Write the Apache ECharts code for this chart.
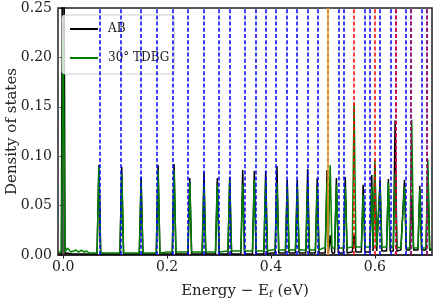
<!DOCTYPE html>
<html>
<head>
<meta charset="utf-8">
<script src="https://cdn.jsdelivr.net/npm/echarts@6/dist/echarts.min.js"></script>
<style>
html,body{margin:0;padding:0;background:#fff;}
#c{width:436px;height:302px;}
</style>
</head>
<body>
<div id="c"></div>
<script>
// ---- data ----
const peakE   = [0.000, 0.0687, 0.1127, 0.150, 0.1827, 0.2135, 0.2437, 0.271, 0.2967, 0.3206, 0.3456, 0.3679, 0.3898, 0.4115, 0.4313, 0.4506, 0.4706, 0.489, 0.508, 0.514, 0.526, 0.543, 0.560, 0.5775, 0.594, 0.600, 0.610, 0.626, 0.639, 0.657, 0.671, 0.6865, 0.702];
const abPeak  = [0.600, 0.091, 0.089, 0.079, 0.091, 0.092, 0.078, 0.084, 0.078, 0.079, 0.086, 0.085, 0.085, 0.090, 0.076, 0.076, 0.087, 0.078, 0.086, 0.020, 0.078, 0.079, 0.020, 0.071, 0.081, 0.090, 0.076, 0.077, 0.136, 0.076, 0.060, 0.070, 0.086];
const tdbgPeak= [0.222, 0.090, 0.084, 0.074, 0.086, 0.086, 0.073, 0.071, 0.071, 0.076, 0.071, 0.077, 0.074, 0.073, 0.069, 0.069, 0.071, 0.069, 0.075, 0.091, 0.071, 0.069, 0.154, 0.061, 0.069, 0.096, 0.071, 0.073, 0.083, 0.069, 0.137, 0.066, 0.097];

const baseE    = [-0.01, 0.008, 0.015, 0.02, 0.025, 0.03, 0.035, 0.04, 0.045, 0.05, 0.1, 0.2, 0.3, 0.4, 0.5, 0.55, 0.6, 0.65, 0.71];
const abBase   = [0.001, 0.002, 0.001, 0.001, 0.001, 0.001, 0.001, 0.001, 0.001, 0.001, 0.001, 0.001, 0.001, 0.002, 0.002, 0.003, 0.004, 0.005, 0.005];
const tdbgBase = [0.003, 0.007, 0.003, 0.004, 0.005, 0.003, 0.005, 0.003, 0.004, 0.002, 0.002, 0.003, 0.004, 0.005, 0.007, 0.008, 0.008, 0.007, 0.006];

const blueE   = [0.0687, 0.1127, 0.150, 0.1827, 0.2135, 0.2437, 0.271, 0.2967, 0.3206, 0.3456, 0.3679, 0.3898, 0.4115, 0.4313, 0.4506, 0.4706, 0.489, 0.508, 0.526, 0.543, 0.5775, 0.594, 0.610, 0.626, 0.641, 0.657, 0.671, 0.6865, 0.702];
const orangeE = [0.514];
const redE    = [0.560, 0.600, 0.638, 0.671, 0.702];

const xTicks = [0.0, 0.2, 0.4, 0.6];

// ---- build line data from peaks + baseline ----
const W = 0.0035;
function footAt(base, e){
  let v = base[0];
  for (let i = 0; i < baseE.length; i++) if (baseE[i] <= e) v = base[i];
  return v;
}
function build(base, peaks){
  const pts = [];
  baseE.forEach((e,i)=>{
    if (!peakE.some(p=>Math.abs(p-e) < W*1.3)) pts.push([e, base[i]]);
  });
  peakE.forEach((e,i)=>{
    const b = footAt(base, e);
    pts.push([e-W, b], [e, peaks[i]], [e+W, b]);
  });
  pts.sort((a,b)=>a[0]-b[0]);
  return pts;
}

const FONT = 'DejaVu Serif';
const dash = [4, 2.2];
function vlines(name, arr, colorFn, type, z){
  return {
    name: name, type: 'line', data: [], z: z, silent: true,
    markLine: {
      silent: true, symbol: ['none','none'], animation: false,
      label: {show: false},
      emphasis: {disabled: true},
      lineStyle: {type: type, width: 1.5},
      data: arr.map(e=>({xAxis: e, lineStyle: {color: colorFn(e), type: type, width: 1.5}}))
    }
  };
}

const chart = echarts.init(document.getElementById('c'), null, {renderer: 'canvas'});
chart.setOption({
  animation: false,
  backgroundColor: '#fff',
  grid: {left: 58, right: 4, top: 8, bottom: 47, outerBoundsMode: 'none', containLabel: false,
    show: true, borderColor: '#222', borderWidth: 1.5, backgroundColor: 'transparent'},
  legend: {
    data: [{name: 'AB', icon: 'rect'}, {name: '30° TDBG', icon: 'rect'}],
    left: 62, top: 15, orient: 'vertical',
    itemWidth: 28, itemHeight: 2, itemGap: 17,
    padding: [8, 5, 10, 8],
    backgroundColor: 'rgba(255,255,255,0.8)',
    borderColor: '#d0d0d0', borderWidth: 1, borderRadius: 3,
    formatter: n => '{n|' + n + '}',
    textStyle: {fontFamily: FONT, fontSize: 12, color: '#222',
      rich: {n: {fontFamily: FONT, fontSize: 12, color: '#222', padding: [0, 0, 0, 5]}}}
  },
  xAxis: {
    type: 'value', min: -0.01, max: 0.71,
    name: 'Energy − E{s|f} (eV)', nameLocation: 'middle', nameGap: 28, nameMoveOverlap: false,
    nameTextStyle: {fontFamily: FONT, fontSize: 15, color: '#222',
      rich: {s: {fontFamily: FONT, fontSize: 10, color: '#222', padding: [6,0,0,0]}}},
    axisLine: {show: true, lineStyle: {color: '#222', width: 1.5}},
    axisTick: {show: true, inside: false, length: 3.5, lineStyle: {color: '#222', width: 1}, customValues: xTicks},
    axisLabel: {fontFamily: FONT, fontSize: 14, color: '#222', margin: 5, customValues: xTicks,
      formatter: v => v.toFixed(1)},
    splitLine: {show: false}
  },
  yAxis: {
    type: 'value', min: 0, max: 0.25, interval: 0.05,
    name: 'Density of states', nameLocation: 'middle', nameGap: 38, nameMoveOverlap: false,
    nameTextStyle: {fontFamily: FONT, fontSize: 15, color: '#222'},
    axisLine: {show: true, lineStyle: {color: '#222', width: 1.5}},
    axisTick: {show: true, inside: false, length: 3.5, lineStyle: {color: '#222', width: 1}},
    axisLabel: {fontFamily: FONT, fontSize: 14, color: '#222', margin: 6,
      formatter: v => v.toFixed(2)},
    splitLine: {show: false}
  },
  series: [
    vlines('blue', blueE, () => '#0000ff', dash, 1),
    vlines('orange', orangeE, () => '#ffa500', 'solid', 1),
    vlines('red', redE, e => blueE.includes(e) ? '#c0103f' : '#ff0000', dash, 1),
    {name: 'AB', type: 'line', data: build(abBase, abPeak), symbol: 'none', showSymbol: false,
      lineStyle: {color: '#000', width: 1.5}, itemStyle: {color: '#000'}, z: 2, clip: true},
    {name: '30° TDBG', type: 'line', data: build(tdbgBase, tdbgPeak), symbol: 'none', showSymbol: false,
      lineStyle: {color: '#008000', width: 1.5}, itemStyle: {color: '#008000'}, z: 2, clip: true}
  ]
});
</script>
</body>
</html>
